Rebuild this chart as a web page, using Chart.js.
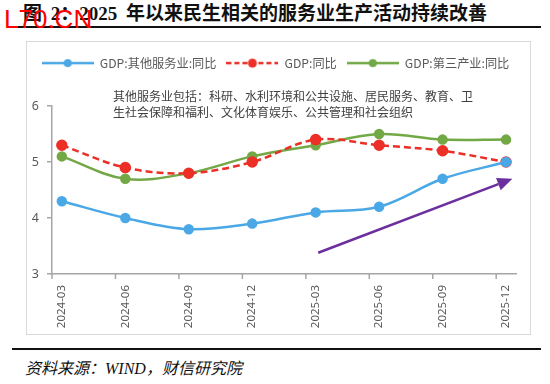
<!DOCTYPE html>
<html>
<head>
<meta charset="utf-8">
<script src="https://cdn.jsdelivr.net/npm/chart.js@4.4.1/dist/chart.umd.min.js"></script>
<style>
body{margin:0;width:550px;height:384px;background:#fff;position:relative;overflow:hidden;font-family:"Noto Sans CJK SC",sans-serif;}
#title{position:absolute;left:23px;top:2px;font:bold 19px "Liberation Serif","Noto Sans CJK SC";color:#111;white-space:nowrap;line-height:24px;word-spacing:4px}
#wm{position:absolute;left:4px;top:4px;font:26px "Liberation Sans",sans-serif;color:#f00;line-height:30px;z-index:5}
.rule{position:absolute;left:12px;width:529px;height:2px;background:#111}
#box{position:absolute;left:26px;top:41px;width:505px;height:294px;border:1.5px solid #d9d9d9;box-sizing:border-box}
#chart{position:absolute;left:26px;top:41px}
#note{position:absolute;left:113px;top:88px;font-size:12px;line-height:16px;color:#404040;white-space:nowrap}
#src{position:absolute;left:25px;top:355px;font:italic 16px "Liberation Serif","Noto Sans CJK SC";color:#111;white-space:nowrap}
</style>
</head>
<body>
<div id="title">图 2：2025 年以来民生相关的服务业生产活动持续改善</div>
<div id="wm">L70.CN</div>
<div class="rule" style="top:26px"></div>
<div id="box"></div>
<canvas id="chart" width="505" height="294"></canvas>
<div id="note">其他服务业包括：科研、水利环境和公共设施、居民服务、教育、卫<br>生社会保障和福利、文化体育娱乐、公共管理和社会组织</div>
<div class="rule" style="top:348px"></div>
<div id="src">资料来源：WIND，财信研究院</div>
<script>
const categories = ['2024-03', '2024-06', '2024-09', '2024-12', '2025-03', '2025-06', '2025-09', '2025-12'];
const otherServices = [4.3, 4.0, 3.8, 3.9, 4.1, 4.2, 4.7, 5.0];
const gdpYoy = [5.3, 4.9, 4.8, 5.0, 5.4, 5.3, 5.2, 5.0];
const tertiary = [5.1, 4.7, 4.8, 5.1, 5.3, 5.5, 5.4, 5.4];
const seriesNames = ['GDP:其他服务业:同比', 'GDP:同比', 'GDP:第三产业:同比'];
const yTicks = [3, 4, 5, 6];
// trend arrow, in data units (category index, value)
const arrowFrom = [4.04, 3.38];
const arrowTo = [7.1, 4.7];

const blue = '#4aa8e6', red = '#ec2f27', green = '#72a845', purple = '#6b2f9e';
const axisGray = '#a6a6a6', textGray = '#595959';
const tickShift = -0.155;

const legendIcon = (color, dash, r) => {
    const c = document.createElement('canvas');
    c.width = 52; c.height = 12;
    const g = c.getContext('2d');
    g.strokeStyle = color; g.lineWidth = 2.5; g.setLineDash(dash);
    g.beginPath(); g.moveTo(0, 6); g.lineTo(52, 6); g.stroke();
    g.fillStyle = color;
    g.beginPath(); g.arc(26, 6, r, 0, Math.PI * 2); g.fill();
    return c;
};
const icons = [legendIcon(blue, [], 4), legendIcon(red, [5, 3], 4.5), legendIcon(green, [], 4)];

const toPts = arr => arr.map((v, i) => ({x: i, y: v}));

const legendHeight = {
    id: 'legendHeight',
    beforeInit(chart) {
        const fit = chart.legend.fit;
        chart.legend.fit = function () {
            fit.call(this);
            this.height = 59;
        };
    }
};

const extras = {
    id: 'extras',
    afterDatasetsDraw(chart) {
        const {ctx, scales: {x, y}} = chart;
        ctx.save();
        ctx.strokeStyle = axisGray;
        ctx.lineWidth = 1.5;
        categories.forEach((c, i) => {
            const px = x.getPixelForValue(i + tickShift);
            ctx.beginPath();
            ctx.moveTo(px, y.bottom);
            ctx.lineTo(px, y.bottom + 5);
            ctx.stroke();
        });

        const x0 = x.getPixelForValue(arrowFrom[0]), y0 = y.getPixelForValue(arrowFrom[1]);
        const x1 = x.getPixelForValue(arrowTo[0]), y1 = y.getPixelForValue(arrowTo[1]);
        const ang = Math.atan2(y1 - y0, x1 - x0);
        const hl = 15, hw = 6.5;
        const bx = x1 - hl * Math.cos(ang), by = y1 - hl * Math.sin(ang);
        ctx.strokeStyle = purple;
        ctx.fillStyle = purple;
        ctx.lineWidth = 2.5;
        ctx.beginPath();
        ctx.moveTo(x0, y0);
        ctx.lineTo(bx, by);
        ctx.stroke();
        ctx.beginPath();
        ctx.moveTo(x1, y1);
        ctx.lineTo(bx - hw * Math.sin(ang), by + hw * Math.cos(ang));
        ctx.lineTo(bx + hw * Math.sin(ang), by - hw * Math.cos(ang));
        ctx.closePath();
        ctx.fill();
        ctx.restore();
    }
};

const tickFont = {family: '"Noto Sans", "Noto Sans CJK SC", sans-serif', size: 11.5};

new Chart(document.getElementById('chart').getContext('2d'), {
    type: 'line',
    data: {
        datasets: [{
            label: seriesNames[0],
            data: toPts(otherServices),
            borderColor: blue, backgroundColor: blue,
            borderWidth: 2.5, pointRadius: 4, tension: 0.35
        }, {
            label: seriesNames[1],
            data: toPts(gdpYoy),
            borderColor: red, backgroundColor: red,
            borderWidth: 2.5, borderDash: [7, 4], pointRadius: 4.5, tension: 0.35
        }, {
            label: seriesNames[2],
            data: toPts(tertiary),
            borderColor: green, backgroundColor: green,
            borderWidth: 2.5, pointRadius: 4, tension: 0.35
        }]
    },
    options: {
        responsive: false,
        animation: false,
        layout: {padding: {top: 6, right: 6, left: 0, bottom: 0}},
        plugins: {
            tooltip: {enabled: false},
            legend: {
                labels: {
                    usePointStyle: true,
                    pointStyleWidth: 52,
                    padding: 10,
                    color: textGray,
                    font: {family: '"Noto Sans CJK SC", sans-serif', size: 12.2},
                    generateLabels(chart) {
                        const items = Chart.defaults.plugins.legend.labels.generateLabels(chart);
                        items.forEach((it, i) => { it.pointStyle = icons[i]; });
                        return items;
                    }
                }
            }
        },
        scales: {
            x: {
                type: 'linear',
                min: tickShift,
                max: 7.17,
                afterBuildTicks(s) { s.ticks = categories.map((c, i) => ({value: i})); },
                afterFit(s) { s.height = 61; },
                ticks: {
                    callback: v => categories[v],
                    minRotation: 90, maxRotation: 90,
                    padding: 11, color: textGray, font: tickFont
                },
                grid: {display: false, drawTicks: false},
                border: {color: axisGray, width: 1.5}
            },
            y: {
                min: 3,
                max: 6,
                afterBuildTicks(s) { s.ticks = yTicks.map(v => ({value: v})); },
                afterFit(s) { s.width = 26; },
                ticks: {padding: 8, color: textGray, font: {family: tickFont.family, size: 12.5}},
                grid: {drawOnChartArea: false, tickLength: 5, color: axisGray, lineWidth: 1.5},
                border: {color: axisGray, width: 1.5}
            }
        }
    },
    plugins: [legendHeight, extras]
});
</script>
</body>
</html>
